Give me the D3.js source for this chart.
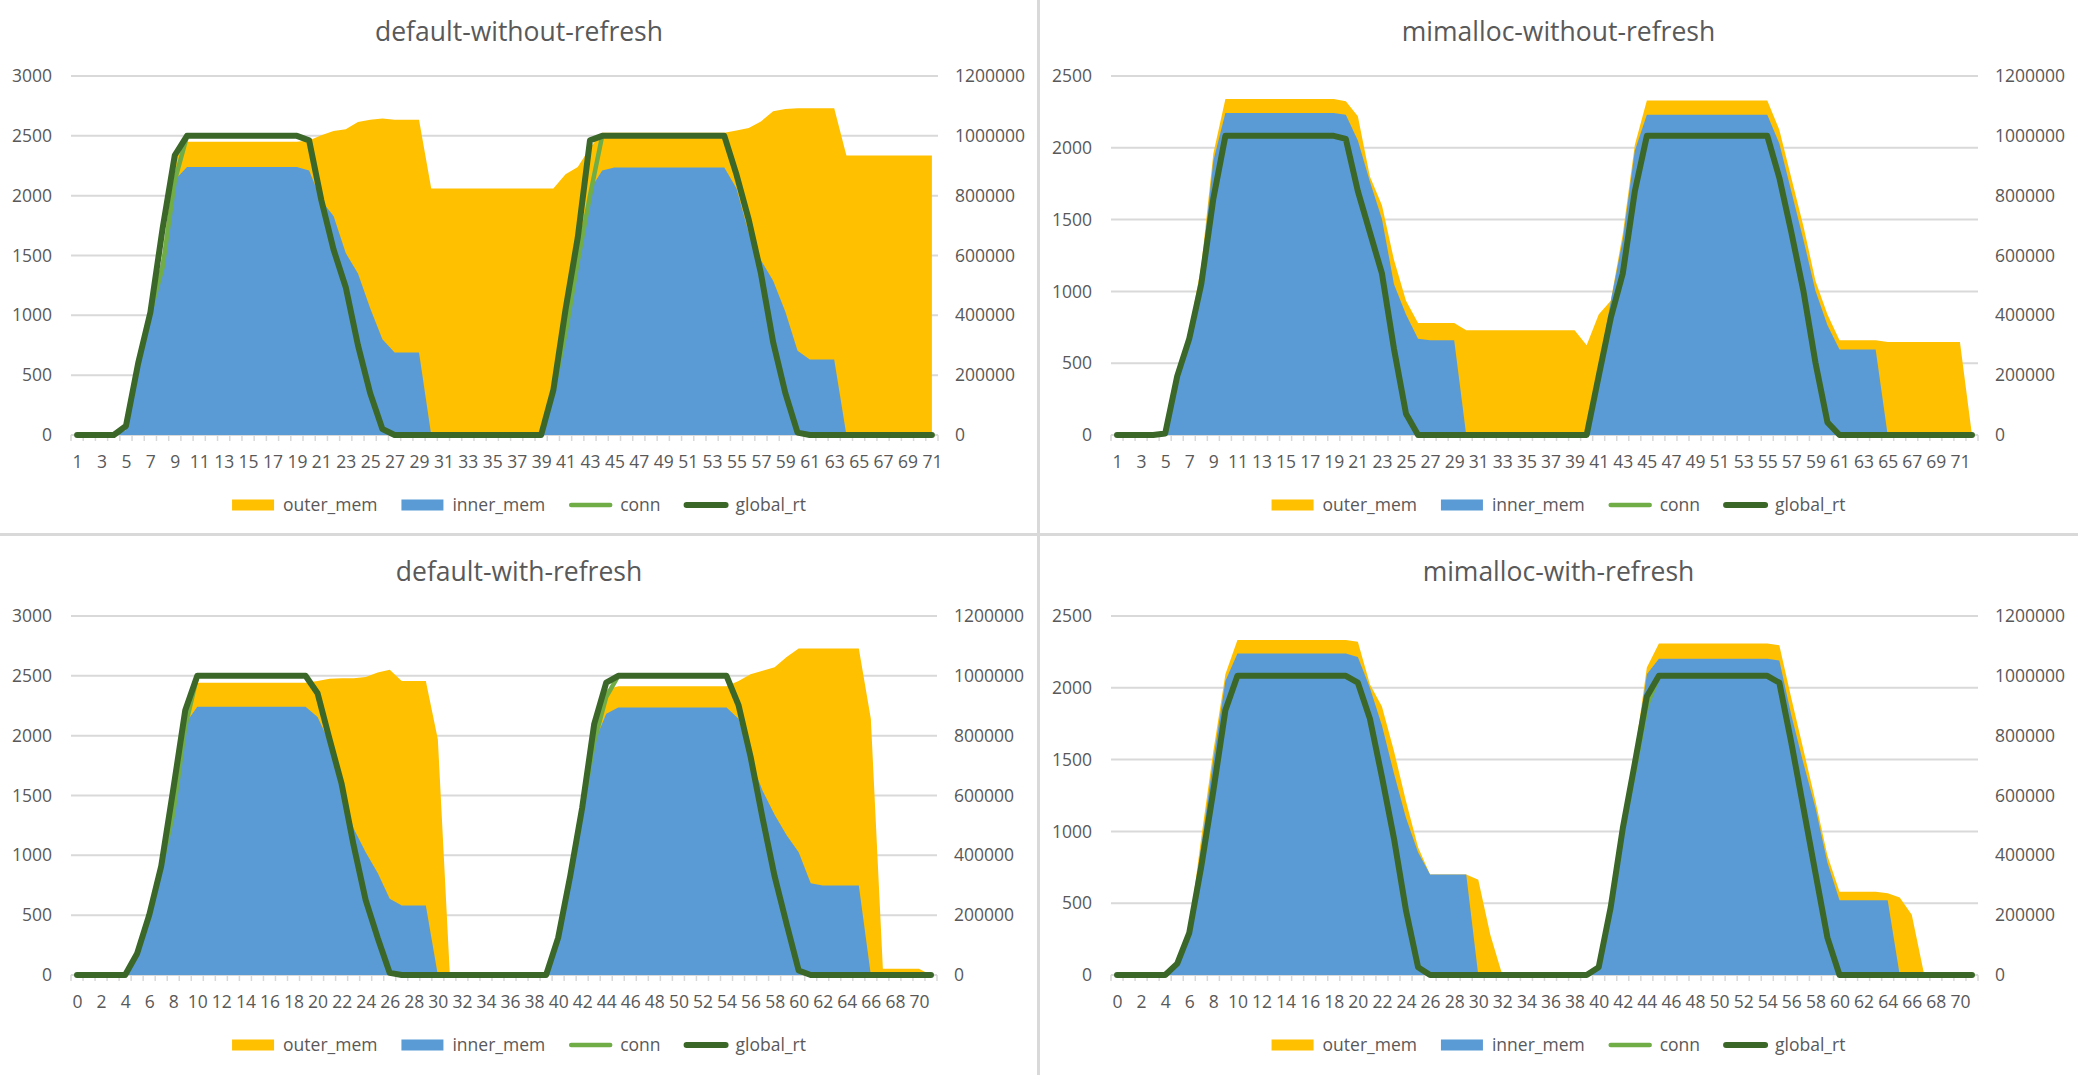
<!DOCTYPE html>
<html><head><meta charset="utf-8">
<script src="https://cdn.jsdelivr.net/npm/d3@7"></script>
<style>
html,body{margin:0;padding:0;background:#fff;}
svg{display:block;}
text{font-family:"Open Sans",sans-serif;fill:#595959;}
</style></head><body>
<svg id="c" width="2078" height="1075"></svg>
<script>
// ---------------- DATA ----------------
const seriesNames = ["outer_mem", "inner_mem", "conn", "global_rt"];
const titles = ["default-without-refresh", "mimalloc-without-refresh", "default-with-refresh", "mimalloc-with-refresh"];

const catsA = [1,2,3,4,5,6,7,8,9,10,11,12,13,14,15,16,17,18,19,20,21,22,23,24,25,26,27,28,29,30,31,32,33,34,35,36,37,38,39,40,41,42,43,44,45,46,47,48,49,50,51,52,53,54,55,56,57,58,59,60,61,62,63,64,65,66,67,68,69,70,71];
const catsB = [1,2,3,4,5,6,7,8,9,10,11,12,13,14,15,16,17,18,19,20,21,22,23,24,25,26,27,28,29,30,31,32,33,34,35,36,37,38,39,40,41,42,43,44,45,46,47,48,49,50,51,52,53,54,55,56,57,58,59,60,61,62,63,64,65,66,67,68,69,70,71,72];
const catsC = [0,1,2,3,4,5,6,7,8,9,10,11,12,13,14,15,16,17,18,19,20,21,22,23,24,25,26,27,28,29,30,31,32,33,34,35,36,37,38,39,40,41,42,43,44,45,46,47,48,49,50,51,52,53,54,55,56,57,58,59,60,61,62,63,64,65,66,67,68,69,70,71];
const catsD = [0,1,2,3,4,5,6,7,8,9,10,11,12,13,14,15,16,17,18,19,20,21,22,23,24,25,26,27,28,29,30,31,32,33,34,35,36,37,38,39,40,41,42,43,44,45,46,47,48,49,50,51,52,53,54,55,56,57,58,59,60,61,62,63,64,65,66,67,68,69,70,71];

const xLabelsOdd  = [1,3,5,7,9,11,13,15,17,19,21,23,25,27,29,31,33,35,37,39,41,43,45,47,49,51,53,55,57,59,61,63,65,67,69,71];
const xLabelsEven = [0,2,4,6,8,10,12,14,16,18,20,22,24,26,28,30,32,34,36,38,40,42,44,46,48,50,52,54,56,58,60,62,64,66,68,70];
const leftTicksDefault  = [0,500,1000,1500,2000,2500,3000];
const leftTicksMimalloc = [0,500,1000,1500,2000,2500];
const rightTicks = [0,200000,400000,600000,800000,1000000,1200000];

// default-without-refresh
const outerA = [0,0,0,0,40,640,1000,1500,2300,
  2450,2450,2450,2450,2450,2450,2450,2450,2450,2450,
  2460,2505,2540,2555,2615,2635,2645,2635,2635,2635,
  2060,2060,2060,2060,2060,2060,2060,2060,2060,2060,
  2060,2180,2240,2400,2525,
  2525,2525,2525,2525,2525,2525,2525,2525,2525,2525,
  2545,2565,2620,2705,2725,2730,2730,2730,2730,
  2335,2335,2335,2335,2335,2335,2335,2335];
const innerA = [0,0,0,0,40,640,1000,1500,2130,
  2240,2240,2240,2240,2240,2240,2240,2240,2240,2240,
  2210,1960,1830,1520,1350,1060,800,690,690,690,
  0,0,0,0,0,0,0,0,0,0,
  300,950,1550,2050,2210,
  2235,2235,2235,2235,2235,2235,2235,2235,2235,2235,
  2060,1690,1460,1290,1030,705,630,630,630,
  0,0,0,0,0,0,0,0];
const connA = [0,0,0,0,30000,240000,410000,560000,850000,
  1000000,1000000,1000000,1000000,1000000,1000000,1000000,1000000,1000000,1000000,
  985000,785000,620000,494000,300000,140000,20000,0,0,0,
  0,0,0,0,0,0,0,0,0,0,
  150000,340000,580000,800000,1000000,
  1000000,1000000,1000000,1000000,1000000,1000000,1000000,1000000,1000000,1000000,
  870000,720000,540000,310000,140000,8000,0,0,0,
  0,0,0,0,0,0,0,0];
const rtA = [0,0,0,0,30000,240000,410000,690000,935000,
  1000000,1000000,1000000,1000000,1000000,1000000,1000000,1000000,1000000,1000000,
  985000,785000,620000,494000,300000,140000,20000,0,0,0,
  0,0,0,0,0,0,0,0,0,0,
  150000,420000,660000,985000,1000000,
  1000000,1000000,1000000,1000000,1000000,1000000,1000000,1000000,1000000,1000000,
  870000,720000,540000,310000,140000,8000,0,0,0,
  0,0,0,0,0,0,0,0];

// mimalloc-without-refresh
const outerB = [0,0,0,0,15,460,720,1180,1960,
  2340,2340,2340,2340,2340,2340,2340,2340,2340,2340,
  2325,2220,1800,1600,1220,935,780,780,780,780,
  730,730,730,730,730,730,730,730,730,730,
  625,840,935,1400,2020,
  2330,2330,2330,2330,2330,2330,2330,2330,2330,2330,2330,
  2125,1790,1455,1075,840,660,660,660,660,
  648,648,648,648,648,648,648,
  0];
const innerB = [0,0,0,0,0,445,695,1140,1910,
  2243,2243,2243,2243,2243,2243,2243,2243,2243,2243,
  2230,2050,1765,1505,1050,840,670,660,660,660,
  0,0,0,0,0,0,0,0,0,0,
  0,455,930,1360,1980,
  2230,2230,2230,2230,2230,2230,2230,2230,2230,2230,2230,
  2030,1695,1360,1005,765,595,595,595,595,
  0,0,0,0,0,0,0,0];
const connB = [0,0,0,0,5000,197000,322000,505000,790000,
  1000000,1000000,1000000,1000000,1000000,1000000,1000000,1000000,1000000,1000000,
  990000,815000,677000,540000,288000,71000,0,0,0,0,
  0,0,0,0,0,0,0,0,0,0,
  0,197000,391000,540000,814000,
  1000000,1000000,1000000,1000000,1000000,1000000,1000000,1000000,1000000,1000000,1000000,
  860000,677000,482000,242000,42000,0,0,0,0,
  0,0,0,0,0,0,0,0];
const rtB = [0,0,0,0,5000,197000,322000,505000,790000,
  1000000,1000000,1000000,1000000,1000000,1000000,1000000,1000000,1000000,1000000,
  990000,815000,677000,540000,288000,71000,0,0,0,0,
  0,0,0,0,0,0,0,0,0,0,
  0,197000,391000,540000,814000,
  1000000,1000000,1000000,1000000,1000000,1000000,1000000,1000000,1000000,1000000,1000000,
  860000,677000,482000,242000,42000,0,0,0,0,
  0,0,0,0,0,0,0,0];

// default-with-refresh
const outerC = [0,0,0,0,0,170,560,910,1500,2200,
  2442,2442,2442,2442,2442,2442,2442,2442,2442,2442,
  2456,2476,2479,2480,2491,2528,2551,2456,2456,2456,
  1970,0,0,0,0,0,0,0,0,0,
  300,800,1430,1950,2385,
  2413,2413,2413,2413,2413,2413,2413,2413,2413,2413,
  2456,2513,2542,2571,2657,2728,2728,2728,2728,2728,2728,
  2141,52,52,52,52,0];
const innerC = [0,0,0,0,0,170,560,910,1500,2100,
  2241,2241,2241,2241,2241,2241,2241,2241,2241,2241,
  2156,1941,1540,1225,1025,853,638,581,581,581,
  0,0,0,0,0,0,0,0,0,0,
  300,796,1425,1941,2184,
  2236,2236,2236,2236,2236,2236,2236,2236,2236,2236,
  2141,1798,1540,1340,1168,1025,767,747,747,747,747,
  0,0,0,0,0,0];
const connC = [0,0,0,0,0,72000,200000,364000,540000,830000,
  1000000,1000000,1000000,1000000,1000000,1000000,1000000,1000000,1000000,1000000,
  942000,788000,639000,433000,250000,124000,7000,0,0,0,
  0,0,0,0,0,0,0,0,0,0,
  124000,330000,559000,780000,930000,
  1000000,1000000,1000000,1000000,1000000,1000000,1000000,1000000,1000000,1000000,
  902000,730000,524000,330000,170000,15000,0,0,0,0,0,
  0,0,0,0,0,0];
const rtC = [0,0,0,0,0,72000,200000,364000,620000,885000,
  1000000,1000000,1000000,1000000,1000000,1000000,1000000,1000000,1000000,1000000,
  942000,788000,639000,433000,250000,124000,7000,0,0,0,
  0,0,0,0,0,0,0,0,0,0,
  124000,330000,559000,839000,977000,
  1000000,1000000,1000000,1000000,1000000,1000000,1000000,1000000,1000000,1000000,
  902000,730000,524000,330000,170000,15000,0,0,0,0,0,
  0,0,0,0,0,0];

// mimalloc-with-refresh
const outerD = [0,0,0,0,0,90,320,960,1560,2094,
  2333,2333,2333,2333,2333,2333,2333,2333,2333,2333,
  2321,2025,1870,1560,1210,890,700,699,699,699,
  663,281,0,0,0,0,0,0,0,0,
  55,540,1090,1540,2142,
  2309,2309,2309,2309,2309,2309,2309,2309,2309,2309,
  2297,1927,1570,1212,830,580,580,580,580,570,540,
  420,15,0,0,0,0];
const innerD = [0,0,0,0,0,90,305,900,1500,2047,
  2238,2238,2238,2238,2238,2238,2238,2238,2238,2238,
  2214,2000,1737,1403,1093,854,699,699,699,699,
  0,0,0,0,0,0,0,0,0,0,
  55,520,1069,1522,2094,
  2202,2202,2202,2202,2202,2202,2202,2202,2202,2202,
  2190,1808,1474,1164,782,520,520,520,520,520,0,
  0,0,0,0,0,0];
const connD = [0,0,0,0,0,38000,141000,364000,616000,885000,
  1000000,1000000,1000000,1000000,1000000,1000000,1000000,1000000,1000000,1000000,
  977000,857000,662000,456000,215000,26000,0,0,0,0,
  0,0,0,0,0,0,0,0,0,0,
  26000,227000,490000,690000,900000,
  1000000,1000000,1000000,1000000,1000000,1000000,1000000,1000000,1000000,1000000,
  977000,776000,559000,341000,124000,0,0,0,0,0,0,
  0,0,0,0,0,0];
const rtD = [0,0,0,0,0,38000,141000,364000,616000,885000,
  1000000,1000000,1000000,1000000,1000000,1000000,1000000,1000000,1000000,1000000,
  977000,857000,662000,456000,215000,26000,0,0,0,0,
  0,0,0,0,0,0,0,0,0,0,
  26000,227000,490000,708000,931000,
  1000000,1000000,1000000,1000000,1000000,1000000,1000000,1000000,1000000,1000000,
  977000,776000,559000,341000,124000,0,0,0,0,0,0,
  0,0,0,0,0,0];

// ---------------- STYLE / LAYOUT ----------------
const COLORS = {outer_mem:"#FFC000", inner_mem:"#5B9BD5", conn:"#70AD47", global_rt:"#3B6729"};
const WIDTHS = {conn:4.5, global_rt:6};
const GRID = "#d9d9d9";
const FS = 17.5;

const svg = d3.select("#c");

const panels = [
  {boxX:0,    boxW:1038, yOff:0,   x0:71,   x1:938,  title:titles[0], cats:catsA, labels:xLabelsOdd,  outer:outerA, inner:innerA, conn:connA, rt:rtA, lt:leftTicksDefault},
  {boxX:1039, boxW:1039, yOff:0,   x0:1111, x1:1978, title:titles[1], cats:catsB, labels:xLabelsOdd,  outer:outerB, inner:innerB, conn:connB, rt:rtB, lt:leftTicksMimalloc},
  {boxX:0,    boxW:1038, yOff:540, x0:71,   x1:937,  title:titles[2], cats:catsC, labels:xLabelsEven, outer:outerC, inner:innerC, conn:connC, rt:rtC, lt:leftTicksDefault},
  {boxX:1039, boxW:1039, yOff:540, x0:1111, x1:1978, title:titles[3], cats:catsD, labels:xLabelsEven, outer:outerD, inner:innerD, conn:connD, rt:rtD, lt:leftTicksMimalloc}
];

function drawPanel(p) {
  const g = svg.append("g");
  const yTop = 76 + p.yOff, yBot = 435 + p.yOff;
  const xP = d3.scalePoint().domain(p.cats).range([p.x0, p.x1]).padding(0.5);
  const xB = d3.scaleBand().domain(p.cats).range([p.x0, p.x1]);
  const yL = d3.scaleLinear().domain([0, d3.max(p.lt)]).range([yBot, yTop]);
  const yR = d3.scaleLinear().domain([0, d3.max(rightTicks)]).range([yBot, yTop]);
  const cx = p.boxX + p.boxW / 2;

  // title
  g.append("text").attr("x", cx).attr("y", 41 + p.yOff).attr("text-anchor", "middle")
    .style("font-size", "26.5px").text(p.title);

  // gridlines
  g.append("g").selectAll("line").data(p.lt).join("line")
    .attr("x1", p.x0).attr("x2", p.x1)
    .attr("y1", d => yL(d)).attr("y2", d => yL(d))
    .attr("stroke", GRID).attr("stroke-width", 2);

  // x tick marks at category boundaries
  const bounds = p.cats.map(c => xB(c)).concat([p.x1]);
  g.append("g").selectAll("line").data(bounds).join("line")
    .attr("x1", d => d).attr("x2", d => d)
    .attr("y1", yBot).attr("y2", yBot + 6)
    .attr("stroke", GRID).attr("stroke-width", 1.5);

  const idx = p.cats.map((c, i) => i);
  const area = vals => d3.area().x(i => xP(p.cats[i])).y0(yL(0)).y1(i => yL(vals[i]));
  const line = vals => d3.line().x(i => xP(p.cats[i])).y(i => yR(vals[i]));

  g.append("path").datum(idx).attr("d", area(p.outer)).attr("fill", COLORS.outer_mem);
  g.append("path").datum(idx).attr("d", area(p.inner)).attr("fill", COLORS.inner_mem);
  g.append("path").datum(idx).attr("d", line(p.conn)).attr("fill", "none")
    .attr("stroke", COLORS.conn).attr("stroke-width", WIDTHS.conn)
    .attr("stroke-linejoin", "round").attr("stroke-linecap", "round");
  g.append("path").datum(idx).attr("d", line(p.rt)).attr("fill", "none")
    .attr("stroke", COLORS.global_rt).attr("stroke-width", WIDTHS.global_rt)
    .attr("stroke-linejoin", "round").attr("stroke-linecap", "round");

  // axes
  const fmt = d3.format("d");
  const ax = g.append("g").attr("transform", `translate(0,${yBot})`)
    .call(d3.axisBottom(xP).tickValues(p.labels).tickSize(0).tickPadding(21));
  const al = g.append("g").attr("transform", `translate(${p.x0},0)`)
    .call(d3.axisLeft(yL).tickValues(p.lt).tickSize(0).tickPadding(19).tickFormat(fmt));
  const ar = g.append("g").attr("transform", `translate(${p.x1},0)`)
    .call(d3.axisRight(yR).tickValues(rightTicks).tickSize(0).tickPadding(17).tickFormat(fmt));
  [ax, al, ar].forEach(a => {
    a.select(".domain").remove();
    a.attr("font-family", null).attr("font-size", null);
    a.selectAll("text").style("font-size", FS + "px").attr("fill", "#595959");
  });

  // legend
  const items = [
    {name: seriesNames[0], type: "rect"},
    {name: seriesNames[1], type: "rect"},
    {name: seriesNames[2], type: "line"},
    {name: seriesNames[3], type: "line"}
  ];
  const symW = 43, gapST = 8, gapI = 24, ly = 505 + p.yOff;
  const lg = g.append("g");
  const texts = items.map(it => lg.append("text").style("font-size", FS + "px").attr("dy", "0.35em").text(it.name));
  const widths = texts.map(t => t.node().getComputedTextLength());
  const total = items.length * (symW + gapST) + d3.sum(widths) + gapI * (items.length - 1);
  let x = cx - total / 2;
  items.forEach((it, i) => {
    if (it.type === "rect") {
      lg.append("rect").attr("x", x).attr("y", ly - 5.5).attr("width", symW - 1).attr("height", 11)
        .attr("fill", COLORS[it.name]);
    } else {
      lg.append("line").attr("x1", x + 2).attr("x2", x + symW - 2).attr("y1", ly).attr("y2", ly)
        .attr("stroke", COLORS[it.name]).attr("stroke-width", WIDTHS[it.name]).attr("stroke-linecap", "round");
    }
    texts[i].attr("x", x + symW + gapST).attr("y", ly);
    x += symW + gapST + widths[i] + gapI;
  });
}

panels.forEach(drawPanel);

// dividers between the four chart boxes
svg.append("rect").attr("x", 1037).attr("y", 0).attr("width", 3).attr("height", 1075).attr("fill", GRID);
svg.append("rect").attr("x", 0).attr("y", 533).attr("width", 2078).attr("height", 3).attr("fill", GRID);
</script>
</body></html>
